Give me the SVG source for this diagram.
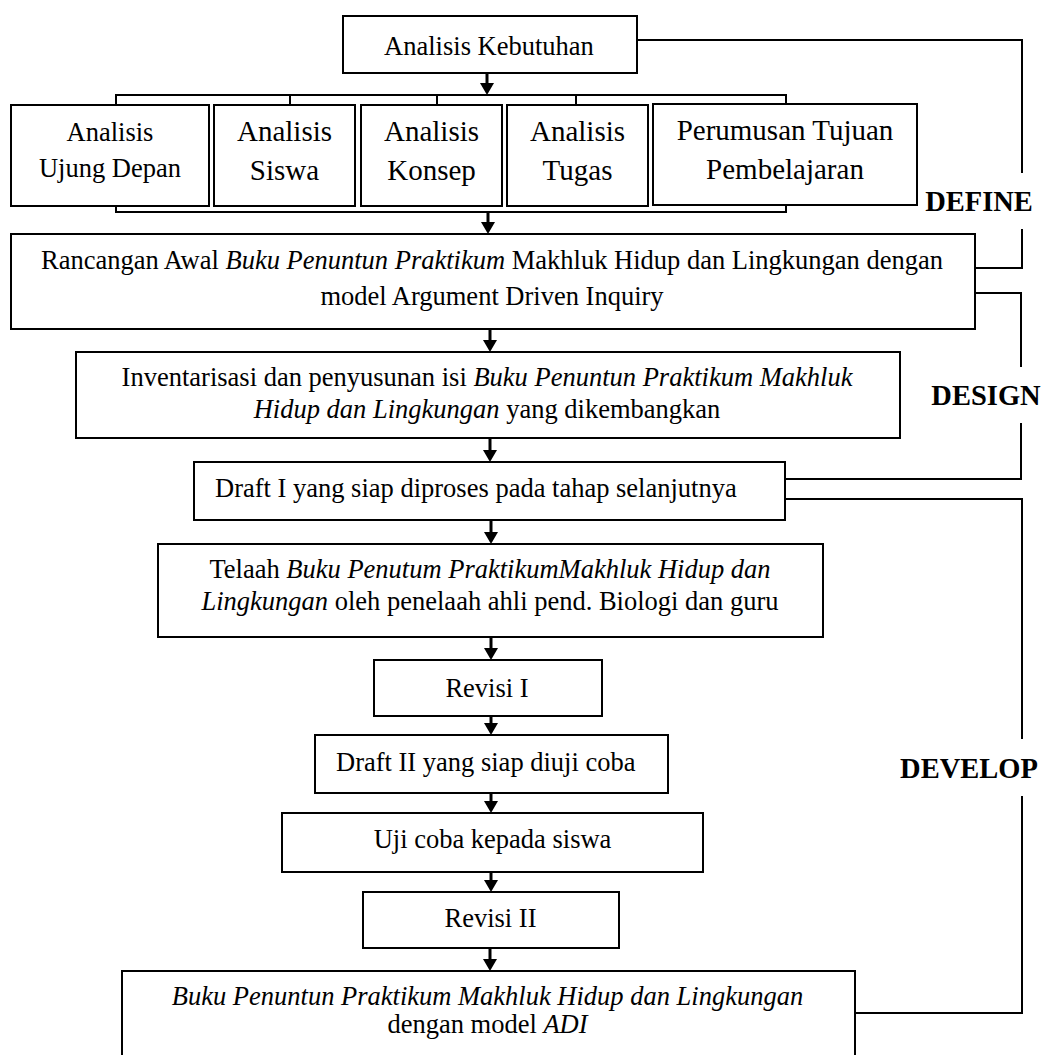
<svg xmlns="http://www.w3.org/2000/svg" width="1045" height="1055" viewBox="0 0 1045 1055">
<style>
.box{fill:#fff;stroke:#000;stroke-width:2}
.t{font-family:"Liberation Serif","Times New Roman",serif;font-size:26.5px;fill:#000;text-anchor:middle}
.tl{text-anchor:start}
.big{font-size:29px}
.lab{font-family:"Liberation Serif","Times New Roman",serif;font-size:28.5px;font-weight:bold;fill:#000;text-anchor:middle}
.i{font-style:italic}
.ln{fill:none;stroke:#000;stroke-width:2}
.ar{fill:none;stroke:#000;stroke-width:3;marker-end:url(#ah)}
</style>
<defs>
<marker id="ah" markerUnits="userSpaceOnUse" markerWidth="12" markerHeight="14" viewBox="0 0 12 14" refX="0" refY="7" orient="auto">
<path d="M0,0 L12,7 L0,14 z" fill="#000"/>
</marker>
</defs>
<rect width="1045" height="1055" fill="#fff"/>

<g id="connectors">
<path class="ln" d="M116,105 V95 H786 V105 M290,95 V105 M437,95 V105 M576,95 V105"/>
<path class="ln" d="M116,206 V212 H786 V206"/>
<line class="ar" x1="487" y1="73" x2="487" y2="83"/>
<line class="ar" x1="488" y1="212" x2="488" y2="222"/>
<line class="ar" x1="490" y1="329" x2="490" y2="340"/>
<line class="ar" x1="490" y1="438" x2="490" y2="450"/>
<line class="ar" x1="491" y1="520" x2="491" y2="532"/>
<line class="ar" x1="491" y1="637" x2="491" y2="648"/>
<line class="ar" x1="491" y1="716" x2="491" y2="723"/>
<line class="ar" x1="491" y1="793" x2="491" y2="801"/>
<line class="ar" x1="491" y1="872" x2="491" y2="880"/>
<line class="ar" x1="490" y1="948" x2="490" y2="959"/>
<path class="ln" d="M637,40 H1022 V173 M1022,229 V268 H975"/>
<path class="ln" d="M975,293 H1021 V367 M1021,423 V479 H785"/>
<path class="ln" d="M785,499 H1022 V739 M1022,796 V1013 H855"/>
</g>

<g id="n-kebutuhan">
<rect class="box" x="343" y="16" width="294" height="57"/>
<text class="t" x="489" y="55">Analisis Kebutuhan</text>
</g>

<g id="n-ujung-depan">
<rect class="box" x="11" y="105" width="198" height="101"/>
<text class="t" x="110" y="141">Analisis</text>
<text class="t" x="110" y="177">Ujung Depan</text>
</g>
<g id="n-siswa">
<rect class="box" x="214" y="105" width="141" height="101"/>
<text class="t big" x="284.5" y="141">Analisis</text>
<text class="t big" x="284.5" y="180">Siswa</text>
</g>
<g id="n-konsep">
<rect class="box" x="361" y="105" width="141" height="101"/>
<text class="t big" x="431.5" y="141">Analisis</text>
<text class="t big" x="431.5" y="180">Konsep</text>
</g>
<g id="n-tugas">
<rect class="box" x="507" y="105" width="141" height="101"/>
<text class="t big" x="577.5" y="141">Analisis</text>
<text class="t big" x="577.5" y="180">Tugas</text>
</g>
<g id="n-tujuan">
<rect class="box" x="653" y="104" width="264" height="101"/>
<text class="t big" x="785" y="140">Perumusan Tujuan</text>
<text class="t big" x="785" y="179">Pembelajaran</text>
</g>
<g id="label-define"><text class="lab" x="979" y="211">DEFINE</text></g>

<g id="n-rancangan">
<rect class="box" x="11" y="234" width="964" height="95"/>
<text class="t" x="492" y="269">Rancangan Awal <tspan class="i">Buku Penuntun Praktikum</tspan> Makhluk Hidup dan Lingkungan dengan</text>
<text class="t" x="492" y="305">model Argument Driven Inquiry</text>
</g>

<g id="n-inventarisasi">
<rect class="box" x="76" y="352" width="824" height="86"/>
<text class="t" x="487" y="386">Inventarisasi dan penyusunan isi <tspan class="i">Buku Penuntun Praktikum Makhluk</tspan></text>
<text class="t" x="487" y="418"><tspan class="i">Hidup dan Lingkungan</tspan> yang dikembangkan</text>
</g>
<g id="label-design"><text class="lab" x="986" y="405">DESIGN</text></g>

<g id="n-draft1">
<rect class="box" x="194" y="462" width="591" height="58"/>
<text class="t tl" x="215" y="497">Draft I yang siap diproses pada tahap selanjutnya</text>
</g>

<g id="n-telaah">
<rect class="box" x="158" y="544" width="665" height="93"/>
<text class="t" x="490" y="578">Telaah <tspan class="i">Buku Penutum PraktikumMakhluk Hidup dan</tspan></text>
<text class="t" x="490" y="610"><tspan class="i">Lingkungan</tspan> oleh penelaah ahli pend. Biologi dan guru</text>
</g>

<g id="n-revisi1">
<rect class="box" x="374" y="660" width="228" height="56"/>
<text class="t" x="487" y="697">Revisi I</text>
</g>

<g id="n-draft2">
<rect class="box" x="315" y="735" width="353" height="58"/>
<text class="t tl" x="336" y="771">Draft II yang siap diuji coba</text>
</g>

<g id="n-ujicoba">
<rect class="box" x="282" y="813" width="421" height="59"/>
<text class="t" x="492.5" y="848">Uji coba kepada siswa</text>
</g>
<g id="label-develop"><text class="lab" x="969" y="778">DEVELOP</text></g>

<g id="n-revisi2">
<rect class="box" x="363" y="892" width="256" height="56"/>
<text class="t" x="490.5" y="927">Revisi II</text>
</g>

<g id="n-final">
<rect class="box" x="122" y="971" width="733" height="100"/>
<text class="t" x="487.5" y="1005"><tspan class="i">Buku Penuntun Praktikum Makhluk Hidup dan Lingkungan</tspan></text>
<text class="t" x="487.5" y="1033">dengan model <tspan class="i">ADI</tspan></text>
</g>
</svg>
